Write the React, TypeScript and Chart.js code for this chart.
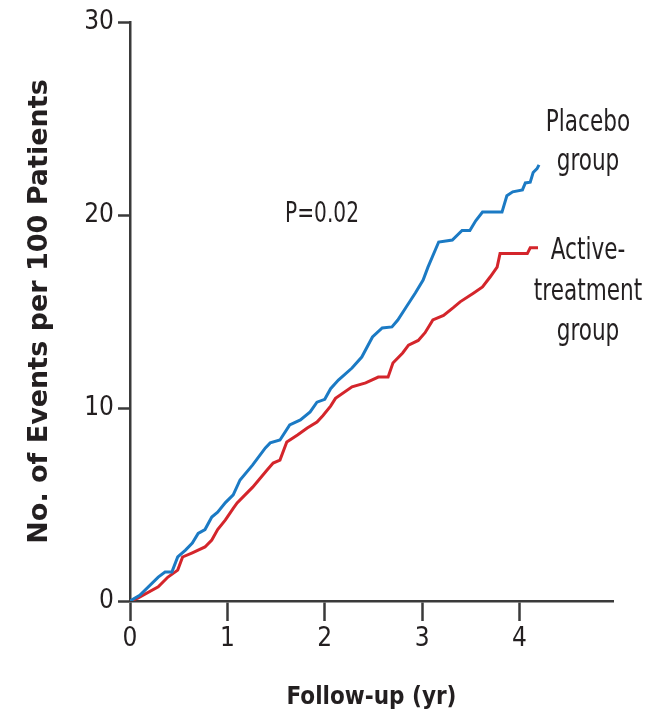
import React, { useEffect, useRef } from "react";
import { Chart, registerables } from "chart.js";

Chart.register(...registerables);

// Follow-up time (yr) and cumulative events per 100 patients
const placeboTimes = [0, 0.1, 0.29, 0.36, 0.43, 0.49, 0.57, 0.64, 0.7, 0.77, 0.84, 0.9, 0.98, 1.06, 1.13, 1.26, 1.39, 1.44, 1.54, 1.64, 1.75, 1.85, 1.92, 2.0, 2.06, 2.14, 2.28, 2.38, 2.49, 2.59, 2.69, 2.75, 2.83, 2.93, 3.01, 3.06, 3.17, 3.31, 3.41, 3.49, 3.55, 3.62, 3.82, 3.87, 3.93, 4.03, 4.06, 4.11, 4.14, 4.18, 4.2];
const placeboValues = [0, 0.3, 1.24, 1.5, 1.5, 2.28, 2.64, 3.0, 3.5, 3.7, 4.35, 4.6, 5.1, 5.5, 6.27, 7.05, 7.93, 8.19, 8.34, 9.12, 9.38, 9.8, 10.3, 10.45, 11.0, 11.45, 12.07, 12.64, 13.68, 14.15, 14.2, 14.56, 15.18, 15.96, 16.63, 17.3, 18.6, 18.7, 19.2, 19.2, 19.7, 20.15, 20.15, 21.0, 21.2, 21.3, 21.66, 21.7, 22.2, 22.4, 22.6];

const activeTimes = [0, 0.08, 0.29, 0.39, 0.49, 0.54, 0.64, 0.77, 0.84, 0.9, 0.98, 1.06, 1.1, 1.26, 1.41, 1.47, 1.54, 1.61, 1.72, 1.82, 1.92, 1.98, 2.06, 2.11, 2.28, 2.42, 2.55, 2.65, 2.7, 2.8, 2.86, 2.96, 3.03, 3.11, 3.22, 3.32, 3.39, 3.53, 3.62, 3.7, 3.77, 3.8, 4.08, 4.11, 4.19];
const activeValues = [0, 0.15, 0.73, 1.24, 1.6, 2.28, 2.5, 2.8, 3.16, 3.7, 4.2, 4.8, 5.08, 5.9, 6.8, 7.15, 7.3, 8.24, 8.6, 8.96, 9.27, 9.6, 10.1, 10.5, 11.1, 11.3, 11.6, 11.6, 12.33, 12.85, 13.26, 13.5, 13.9, 14.56, 14.8, 15.2, 15.5, 15.96, 16.27, 16.8, 17.3, 18.0, 18.0, 18.3, 18.3];

const xTicks = [0, 1, 2, 3, 4];
const yTicks = [0, 10, 20, 30];

const seriesNames = ["Placebo group", "Active-treatment group"];
const pValueText = "P=0.02";
const placeboLabel = ["Placebo", "group"];
const activeLabel = ["Active-", "treatment", "group"];
const xTitle = "Follow-up (yr)";
const yTitle = "No. of Events per 100 Patients";

const NARROW = "'Liberation Sans Narrow', 'DejaVu Sans Condensed', sans-serif";
const TEXT = "#231f20";
const AXIS = "#3a3a3a";

function condensedText(ctx: any, text: string, x: number, y: number, sx: number) {
  ctx.save();
  ctx.translate(x, y);
  ctx.scale(sx, 1);
  ctx.fillText(text, 0, 0);
  ctx.restore();
}

const annotationPlugin = {
  id: "annotations",
  afterDraw(chart: any) {
    const ctx = chart.ctx;
    ctx.save();
    ctx.fillStyle = TEXT;
    ctx.textAlign = "center";
    ctx.textBaseline = "alphabetic";
    ctx.font = `28px ${NARROW}`;
    condensedText(ctx, pValueText, 322, 222, 0.8);
    ctx.font = `30px ${NARROW}`;
    const pBase = [131, 170];
    placeboLabel.forEach((t, i) => condensedText(ctx, t, 588, pBase[i], 0.8));
    const aBase = [259, 300, 340];
    activeLabel.forEach((t, i) => condensedText(ctx, t, 588, aBase[i], 0.8));
    ctx.restore();
  },
};

export default function App() {
  const ref = useRef<HTMLCanvasElement>(null);
  useEffect(() => {
    if (!ref.current) return;
    const chart = new Chart(ref.current, {
      type: "line",
      data: {
        datasets: [
          {
            label: seriesNames[0],
            data: placeboTimes.map((t, i) => ({ x: t, y: placeboValues[i] })),
            borderColor: "#1b7ac4",
            borderWidth: 3,
            pointRadius: 0,
            tension: 0,
          },
          {
            label: seriesNames[1],
            data: activeTimes.map((t, i) => ({ x: t, y: activeValues[i] })),
            borderColor: "#d4252b",
            borderWidth: 3,
            pointRadius: 0,
            tension: 0,
          },
        ],
      },
      options: {
        responsive: false,
        animation: false,
        devicePixelRatio: 1,
        layout: { padding: { top: 22, right: 42, left: 0, bottom: 0 } },
        plugins: { legend: { display: false }, tooltip: { enabled: false } },
        scales: {
          x: {
            type: "linear",
            min: 0,
            max: 4.96,
            afterBuildTicks: (s: any) => {
              s.ticks = xTicks.map((v) => ({ value: v }));
            },
            afterFit: (s: any) => {
              s.height = 121;
            },
            ticks: {
              color: TEXT,
              font: { family: NARROW, size: 26 },
              padding: 3,
              maxRotation: 0,
              autoSkip: false,
            },
            grid: {
              drawOnChartArea: false,
              drawTicks: true,
              tickLength: 20,
              tickColor: AXIS,
              tickWidth: 2.5,
            },
            border: { display: true, color: AXIS, width: 2.5 },
            title: {
              display: true,
              text: xTitle,
              color: TEXT,
              font: { family: NARROW, size: 24, weight: "bold" },
              padding: { bottom: 10, top: 0 },
            },
          },
          y: {
            type: "linear",
            min: 0,
            max: 30,
            afterBuildTicks: (s: any) => {
              s.ticks = yTicks.map((v) => ({ value: v }));
            },
            afterFit: (s: any) => {
              s.width = 130;
            },
            ticks: {
              color: TEXT,
              font: { family: NARROW, size: 26 },
              padding: 4,
              autoSkip: false,
            },
            grid: {
              drawOnChartArea: false,
              drawTicks: true,
              tickLength: 12,
              tickColor: AXIS,
              tickWidth: 2.5,
            },
            border: { display: true, color: AXIS, width: 2.5 },
            title: {
              display: true,
              text: yTitle,
              color: TEXT,
              font: { family: "'DejaVu Sans', sans-serif", size: 27, weight: "bold" },
              padding: { top: 24, bottom: 0 },
            },
          },
        },
      },
      plugins: [annotationPlugin],
    } as any);
    return () => chart.destroy();
  }, []);
  return (
    <div style={{ position: "absolute", left: 0, top: 0, width: 655, height: 722, background: "#fff" }}>
      <canvas ref={ref} width={655} height={722} style={{ display: "block" }} />
    </div>
  );
}
